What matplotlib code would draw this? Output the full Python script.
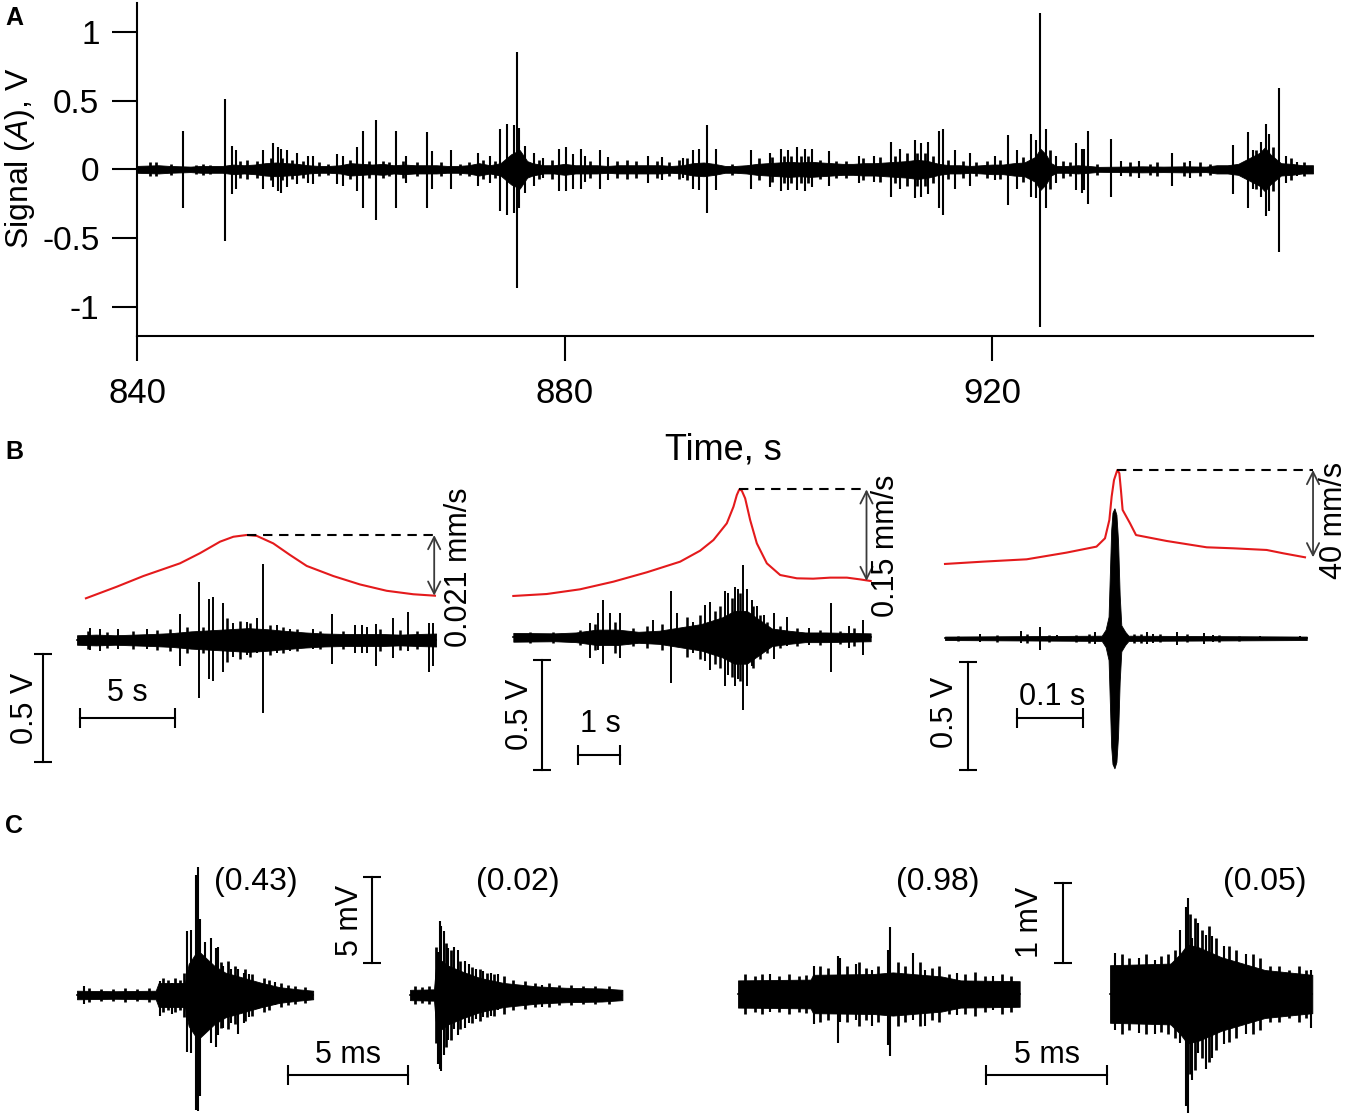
import numpy as np
import matplotlib
matplotlib.use('Agg')
from matplotlib import pyplot as plt

plt.rcParams['font.family'] = ['Liberation Sans', 'DejaVu Sans']
plt.rcParams['mathtext.fontset'] = 'custom'
plt.rcParams['mathtext.it'] = 'Liberation Sans:italic'
plt.rcParams['mathtext.rm'] = 'Liberation Sans'

W, H = 1355, 1119

# ---------------- panel A: long recording (s, V) ----------------
a_env_t = [840, 842, 843, 845, 846, 848, 849, 850, 851, 852, 853, 854, 855, 856, 857, 858, 859,
           860, 861, 862, 863, 864, 865, 866, 867, 868, 869, 870, 871, 872, 873, 874, 875, 875.8,
           876.5, 877, 878, 879, 880, 881, 882, 883, 884, 885, 886, 887, 888, 889, 890, 891, 892,
           893, 894, 895, 896, 897, 898, 899, 900, 901, 902, 903, 904, 905, 906, 907, 908, 909,
           910, 911, 912, 913, 914, 915, 916, 917, 918, 919, 920, 921, 922, 923, 924, 924.5, 925,
           925.5, 926, 927, 928, 929, 930, 932, 934, 936, 938, 940, 941, 942, 943, 944, 945, 945.5,
           946, 947, 948, 949, 950]
a_env = [0.025, 0.03, 0.025, 0.02, 0.025, 0.025, 0.035, 0.03, 0.035, 0.045, 0.05, 0.045, 0.04,
         0.03, 0.025, 0.025, 0.03, 0.045, 0.04, 0.035, 0.04, 0.03, 0.035, 0.03, 0.03, 0.03, 0.025,
         0.025, 0.03, 0.045, 0.03, 0.045, 0.11, 0.14, 0.06, 0.045, 0.03, 0.03, 0.04, 0.03, 0.03,
         0.03, 0.025, 0.03, 0.03, 0.03, 0.03, 0.03, 0.025, 0.03, 0.045, 0.05, 0.04, 0.025, 0.025,
         0.03, 0.04, 0.045, 0.05, 0.055, 0.05, 0.055, 0.05, 0.045, 0.04, 0.04, 0.045, 0.045, 0.05,
         0.055, 0.06, 0.07, 0.06, 0.04, 0.03, 0.03, 0.025, 0.03, 0.035, 0.035, 0.045, 0.05, 0.09,
         0.15, 0.11, 0.045, 0.025, 0.025, 0.03, 0.025, 0.018, 0.02, 0.022, 0.02, 0.022, 0.02,
         0.03, 0.03, 0.04, 0.08, 0.12, 0.16, 0.11, 0.045, 0.04, 0.03, 0.03]
a_spk_t = [844.3, 848.2, 848.9, 849.3, 851.8, 852.7, 853.2, 853.5, 854.0, 855.0, 856.0, 856.5,
           858.7, 859.3, 860.6, 861.1, 862.4, 864.2, 865.2, 867.1, 867.6, 869.4, 871.9, 873.0,
           874.0, 874.6, 875.3, 875.5, 875.7, 876.3, 877.1, 878.0, 879.5, 880.1, 880.8, 881.5,
           881.9, 883.3, 884.1, 887.8, 889.1, 891.1, 892.0, 892.6, 893.3, 894.2, 897.4, 899.2,
           900.2, 900.9, 901.7, 902.5, 903.1, 904.7, 907.5, 908.9, 910.5, 911.4, 912.8, 913.3,
           914.0, 915.0, 915.4, 916.5, 917.9, 920.3, 921.5, 922.3, 923.6, 924.1, 924.5, 925.0,
           926.0, 927.8, 928.4, 928.6, 929.0, 931.1, 932.0, 933.7, 936.8, 938.5, 942.5, 943.9,
           944.4, 945.1, 945.6, 945.9, 946.8, 947.5, 948.5]
a_spk_up = [0.28, 0.51, 0.17, 0.14, 0.14, 0.19, 0.16, 0.15, 0.14, 0.12, 0.10, 0.10,
            0.11, 0.10, 0.16, 0.28, 0.36, 0.28, 0.10, 0.27, 0.13, 0.14, 0.12, 0.10,
            0.29, 0.33, 0.32, 0.85, 0.30, 0.17, 0.12, 0.08, 0.15, 0.16, 0.11, 0.15,
            0.10, 0.14, 0.09, 0.10, 0.09, 0.08, 0.14, 0.15, 0.32, 0.15, 0.14, 0.12,
            0.15, 0.14, 0.16, 0.15, 0.15, 0.13, 0.10, 0.10, 0.20, 0.15, 0.21, 0.19,
            0.20, 0.28, 0.29, 0.14, 0.12, 0.10, 0.25, 0.14, 0.26, 0.21, 1.14, 0.29,
            0.10, 0.19, 0.15, 0.15, 0.28, 0.22, 0.06, 0.06, 0.12, 0.06, 0.18, 0.27,
            0.14, 0.20, 0.33, 0.26, 0.59, 0.10, 0.05]
a_spk_dn = [-0.28, -0.52, -0.18, -0.14, -0.14, -0.13, -0.16, -0.17, -0.13, -0.11, -0.10, -0.11,
            -0.11, -0.12, -0.16, -0.28, -0.37, -0.28, -0.10, -0.28, -0.14, -0.14, -0.12, -0.10,
            -0.30, -0.33, -0.32, -0.86, -0.28, -0.17, -0.12, -0.06, -0.16, -0.16, -0.14, -0.14,
            -0.09, -0.14, -0.08, -0.10, -0.08, -0.06, -0.14, -0.15, -0.32, -0.15, -0.14, -0.13,
            -0.16, -0.15, -0.15, -0.16, -0.13, -0.12, -0.10, -0.09, -0.20, -0.14, -0.21, -0.20,
            -0.18, -0.28, -0.33, -0.14, -0.12, -0.08, -0.26, -0.14, -0.20, -0.21, -1.15, -0.28,
            -0.10, -0.15, -0.17, -0.15, -0.25, -0.20, -0.05, -0.06, -0.12, -0.06, -0.18, -0.28,
            -0.14, -0.20, -0.34, -0.30, -0.60, -0.10, -0.05]
# small wiggles on the baseline (time, half amplitude)
a_tex_t = [841.2, 841.8, 843.2, 845.5, 846.2, 846.8, 849.6, 850.3, 851.2, 852.5, 853.6, 854.5,
           855.5, 857.0, 857.9, 859.9, 861.7, 863.0, 863.6, 864.9, 866.2, 868.4, 870.2, 871.1,
           872.4, 873.5, 876.1, 877.6, 878.8, 882.4, 884.9, 885.8, 886.7, 888.6, 889.8, 890.7,
           891.4, 895.7, 898.2, 899.4, 900.5, 901.2, 902.1, 902.8, 903.9, 905.4, 906.3, 907.9,
           909.5, 910.9, 912.0, 913.0, 913.7, 914.5, 915.9, 917.3, 918.5, 919.5, 920.7, 922.9,
           925.4, 926.6, 927.3, 929.8, 932.9, 934.8, 935.4, 937.9, 939.4, 940.4, 944.7, 946.3,
           947.9, 949.2]
a_tex = [0.05, 0.05, 0.04, 0.035, 0.04, 0.035, 0.06, 0.07, 0.06, 0.08, 0.08, 0.07,
         0.06, 0.05, 0.04, 0.07, 0.06, 0.06, 0.05, 0.06, 0.05, 0.05, 0.04, 0.05,
         0.07, 0.06, 0.10, 0.07, 0.07, 0.06, 0.06, 0.07, 0.06, 0.06, 0.05, 0.07,
         0.08, 0.04, 0.08, 0.09, 0.10, 0.10, 0.10, 0.10, 0.07, 0.06, 0.06, 0.08,
         0.09, 0.10, 0.12, 0.12, 0.12, 0.10, 0.07, 0.06, 0.05, 0.06, 0.07, 0.09,
         0.14, 0.06, 0.05, 0.04, 0.05, 0.04, 0.05, 0.05, 0.05, 0.04, 0.14, 0.16,
         0.08, 0.05]
a_xticks = [840, 880, 920]
a_yticks = [-1, -0.5, 0, 0.5, 1]
a_yticklabels = ['-1', '-0.5', '0', '0.5', '1']

# ---------------- panel B: three events (s, V) and velocity (mm/s) ----------------
b1_env_t = [0, 1, 2, 3, 4, 5, 6, 7, 8, 9, 10, 11, 12, 13, 14, 15, 16, 17, 18, 18.9]
b1_env = [0.022, 0.025, 0.022, 0.025, 0.028, 0.032, 0.04, 0.045, 0.05, 0.055, 0.05, 0.042,
          0.035, 0.03, 0.028, 0.028, 0.028, 0.025, 0.028, 0.03]
b1_spk_t = [0.68, 1.21, 2.18, 3.67, 5.42, 6.42, 6.95, 7.18, 7.70, 8.23, 8.93, 9.46, 9.79,
            10.51, 11.21, 12.44, 13.40, 14.63, 14.98, 15.25, 15.72, 16.65, 17.44, 18.53, 18.75]
b1_spk_up = [0.056, 0.05, 0.05, 0.05, 0.12, 0.27, 0.19, 0.20, 0.17, 0.08, 0.085, 0.10, 0.35,
             0.07, 0.05, 0.05, 0.12, 0.07, 0.07, 0.06, 0.075, 0.10, 0.13, 0.08, 0.08]
b1_spk_dn = [-0.046, -0.05, -0.04, -0.04, -0.12, -0.27, -0.18, -0.19, -0.15, -0.08, -0.07, -0.06,
             -0.34, -0.06, -0.05, -0.04, -0.11, -0.06, -0.06, -0.06, -0.12, -0.085, -0.05,
             -0.15, -0.12]
b1_tex_t = [0.57, 1.56, 2.97, 4.19, 4.9, 5.77, 6.65, 7.88, 8.58, 9.11, 10.16, 10.86, 11.56,
            12.79, 14.02, 15.95, 17.0, 17.88]
b1_tex = [0.04, 0.035, 0.04, 0.045, 0.05, 0.06, 0.06, 0.10, 0.09, 0.08, 0.07, 0.06, 0.05,
          0.04, 0.04, 0.05, 0.045, 0.04]
b1_vel_t = [0.47, 2.09, 3.49, 5.42, 6.47, 7.53, 8.23, 8.93, 9.46, 10.33, 11.21, 12.09, 13.49,
            14.89, 16.30, 17.70, 18.84]
b1_vel = [-0.0009, 0.0031, 0.0068, 0.0112, 0.0147, 0.0187, 0.0204, 0.0210, 0.0207, 0.0181,
          0.0141, 0.0103, 0.0068, 0.0039, 0.0017, 0.0005, 0.0]

b2_env_t = [0, 1, 1.5, 2, 2.5, 3, 3.5, 4, 4.5, 5, 5.3, 5.6, 5.9, 6.2, 6.6, 7, 7.5, 8, 8.57]
b2_env = [0.02, 0.018, 0.022, 0.035, 0.035, 0.025, 0.03, 0.045, 0.06, 0.09, 0.12, 0.12, 0.08,
          0.04, 0.03, 0.022, 0.022, 0.02, 0.018]
b2_spk_t = [1.84, 2.04, 2.16, 2.33, 2.56, 3.36, 3.77, 3.93, 4.30, 4.60, 4.72, 5.08, 5.16,
            5.32, 5.40, 5.52, 5.60, 5.72, 5.84, 6.00, 6.24, 6.56, 7.08, 7.63, 8.05, 8.38]
b2_spk_up = [0.066, 0.11, 0.17, 0.11, 0.11, 0.079, 0.21, 0.11, 0.07, 0.147, 0.16, 0.21, 0.20,
             0.23, 0.22, 0.33, 0.22, 0.17, 0.14, 0.10, 0.11, 0.09, 0.04, 0.155, 0.05, 0.08]
b2_spk_dn = [-0.094, -0.06, -0.12, -0.035, -0.094, -0.03, -0.21, -0.04, -0.07, -0.11, -0.15,
             -0.22, -0.17, -0.22, -0.19, -0.33, -0.22, -0.13, -0.07, -0.03, -0.10, -0.04,
             -0.035, -0.156, -0.05, -0.08]
b2_tex_t = [0.4, 0.96, 1.6, 1.96, 2.44, 2.88, 3.2, 3.56, 4.16, 4.48, 4.84, 4.96, 5.24, 5.44,
            5.76, 5.92, 6.08, 6.4, 6.8, 7.36, 7.84, 8.16]
b2_tex = [0.025, 0.025, 0.035, 0.06, 0.07, 0.04, 0.05, 0.06, 0.09, 0.10, 0.12, 0.14, 0.18,
          0.20, 0.14, 0.10, 0.07, 0.05, 0.04, 0.035, 0.03, 0.04]
b2_vel_t = [0.0, 0.8, 1.6, 2.4, 3.2, 4.0, 4.48, 4.8, 5.12, 5.28, 5.36, 5.42, 5.48, 5.56, 5.68,
            5.84, 6.08, 6.4, 6.8, 7.19, 7.6, 8.0, 8.31, 8.57]
b2_vel = [-0.0245, -0.0213, -0.0136, -0.0011, 0.0142, 0.0316, 0.0496, 0.0671, 0.0944, 0.1216,
          0.1407, 0.15, 0.1478, 0.1353, 0.0998, 0.0616, 0.0289, 0.0098, 0.0044, 0.0038,
          0.0055, 0.0055, 0.0027, 0.0]

b3_env_t = [0.0, 0.240, 0.246, 0.2505, 0.2525, 0.2545, 0.2565, 0.2595, 0.2625, 0.265, 0.2675,
            0.270, 0.276, 0.281, 0.554]
b3_env = [0.008, 0.012, 0.04, 0.10, 0.30, 0.50, 0.58, 0.60, 0.57, 0.45, 0.20, 0.06, 0.03,
          0.012, 0.008]
b3_spk_t = [0.0536, 0.117, 0.1455, 0.171, 0.2297, 0.309, 0.319, 0.355, 0.396, 0.411, 0.4824,
            0.5436]
b3_spk_up = [0.02, 0.035, 0.054, 0.015, 0.03, 0.03, 0.02, 0.03, 0.025, 0.015, 0.012, 0.01]
b3_spk_dn = [-0.015, -0.02, -0.054, -0.012, -0.025, -0.025, -0.02, -0.03, -0.025, -0.015,
             -0.01, -0.01]
b3_tex_t = [0.02, 0.08, 0.125, 0.16, 0.2, 0.22, 0.29, 0.3, 0.33, 0.37, 0.42, 0.45]
b3_tex = [0.012, 0.015, 0.02, 0.015, 0.015, 0.02, 0.02, 0.02, 0.018, 0.018, 0.015, 0.012]
b3_vel_t = [0.0, 0.0587, 0.125, 0.186, 0.232, 0.245, 0.2517, 0.2552, 0.2588, 0.2639, 0.267,
            0.2695, 0.272, 0.2833, 0.2925, 0.3394, 0.4007, 0.4415, 0.4926, 0.518, 0.5513]
b3_vel = [-3.05, -1.98, -0.92, 2.14, 4.89, 8.70, 17.1, 27.8, 35.4, 40.0, 38.5, 30.5, 21.7,
          15.6, 10.2, 7.48, 4.58, 4.12, 3.36, 1.83, 0.0]

b_arrow_t = [18.8, 8.47, 0.5636]
b_vel_labels = ['0.021 mm/s', '0.15 mm/s', '40 mm/s']
b_time_bars = [5, 1, 0.1]
b_time_labels = ['5 s', '1 s', '0.1 s']
b_volt_bar = 0.5

# ---------------- panel C: four single events (ms, mV) ----------------
c1_env_t = [0, 1.6, 3.28, 3.4, 4.5, 4.65, 5.03, 5.72, 6.18, 6.94, 7.7, 8.46, 9.23, 9.84]
c1_env = [0.25, 0.22, 0.25, 0.7, 0.7, 1.8, 2.6, 1.7, 1.3, 1.0, 0.7, 0.45, 0.33, 0.25]
c1_spk_t = [0.3, 3.46, 3.97, 4.58, 4.73, 4.96, 5.03, 5.11, 5.34, 5.57, 5.80, 5.87, 6.10,
            6.40, 6.71, 6.94, 7.17, 7.55, 8.24]
c1_spk_up = [0.55, 0.8, 0.7, 3.7, 3.8, 6.98, 7.47, 4.4, 3.1, 3.3, 2.75, 2.8, 1.7, 1.5, 1.5,
             1.3, 1.2, 0.7, 0.75]
c1_spk_dn = [-0.5, -1.2, -1.1, -3.3, -3.4, -6.68, -6.77, -5.9, -1.9, -2.8, -3.0, -2.3, -1.9,
             -1.6, -2.25, -1.6, -1.3, -0.8, -0.6]
c1_tex_t = [0.5, 1.0, 1.5, 2.0, 2.5, 3.0, 3.6, 3.8, 4.1, 4.3, 4.45, 6.0, 6.3, 6.6, 7.0, 7.3,
            7.8, 8.0, 8.5, 8.8, 9.1, 9.5]
c1_tex = [0.4, 0.35, 0.35, 0.4, 0.35, 0.4, 1.0, 0.9, 1.0, 0.9, 1.3, 1.9, 2.0, 1.7, 1.5, 1.2,
          1.0, 0.9, 0.7, 0.6, 0.5, 0.45]

c2_env_t = [0, 1.0, 1.07, 1.3, 1.6, 2.2, 2.9, 3.9, 5.3, 6.5, 8.0, 8.85]
c2_env = [0.3, 0.33, 1.5, 2.0, 1.7, 1.35, 1.0, 0.7, 0.5, 0.42, 0.38, 0.3]
c2_spk_t = [1.16, 1.25, 1.30, 1.40, 1.60, 1.83, 1.98, 2.29, 2.44, 2.74, 3.05, 3.36, 3.66, 5.49]
c2_spk_up = [2.5, 4.3, 4.0, 3.7, 2.75, 2.8, 2.6, 2.0, 1.8, 1.5, 1.4, 1.3, 1.2, 0.6]
c2_spk_dn = [-4.0, -4.3, -4.4, -3.5, -2.6, -2.0, -2.3, -1.9, -1.6, -1.4, -1.3, -1.2, -0.9, -0.7]
c2_tex_t = [0.2, 0.5, 0.8, 1.1, 1.5, 1.7, 2.1, 2.6, 2.9, 3.2, 3.5, 3.9, 4.3, 4.8, 5.2, 5.8,
            6.2, 6.7, 7.2, 7.7, 8.3]
c2_tex = [0.5, 0.45, 0.5, 2.8, 3.0, 2.6, 2.0, 1.6, 1.5, 1.3, 1.2, 1.1, 0.9, 0.8, 0.7, 0.7,
          0.6, 0.6, 0.55, 0.5, 0.55]

c3_env_t = [0, 3.0, 3.1, 5.6, 6.4, 8.4, 9.2, 11.64]
c3_env = [0.17, 0.18, 0.24, 0.25, 0.27, 0.22, 0.17, 0.16]
c3_spk_t = [1.34, 3.15, 4.13, 4.21, 4.87, 5.53, 6.18, 6.30, 7.25, 7.74, 9.05, 10.53]
c3_spk_up = [0.25, 0.35, 0.47, 0.45, 0.37, 0.3, 0.55, 0.84, 0.51, 0.3, 0.26, 0.22]
c3_spk_dn = [-0.22, -0.38, -0.61, -0.35, -0.32, -0.4, -0.64, -0.78, -0.32, -0.4, -0.26, -0.2]
c3_tex_t = [0.3, 0.7, 1.0, 1.7, 2.1, 2.5, 2.8, 3.4, 3.7, 4.5, 5.0, 5.3, 5.8, 6.6, 6.9, 7.5,
            8.0, 8.3, 8.7, 9.4, 9.8, 10.2, 10.9, 11.3]
c3_tex = [0.25, 0.23, 0.25, 0.22, 0.25, 0.22, 0.24, 0.35, 0.32, 0.35, 0.4, 0.33, 0.35, 0.4,
          0.35, 0.4, 0.33, 0.35, 0.25, 0.25, 0.27, 0.22, 0.25, 0.22]

c4_env_t = [0, 2.5, 2.9, 3.2, 3.7, 4.6, 6.4, 8.36]
c4_env = [0.36, 0.38, 0.5, 0.62, 0.58, 0.46, 0.3, 0.24]
c4_spk_t = [0.2, 1.18, 1.84, 2.9, 3.15, 3.23, 3.4, 3.64, 3.97, 4.21, 4.71, 5.6, 8.31]
c4_spk_up = [0.51, 0.45, 0.43, 0.8, 1.09, 1.2, 0.7, 0.89, 0.74, 0.72, 0.6, 0.5, 0.3]
c4_spk_dn = [-0.45, -0.49, -0.5, -0.61, -1.4, -1.49, -1.07, -0.74, -0.94, -0.8, -0.63, -0.5,
             -0.42]
c4_tex_t = [0.5, 0.8, 1.5, 2.1, 2.4, 2.7, 3.3, 3.5, 3.8, 4.1, 4.4, 4.9, 5.2, 5.9, 6.2, 6.6,
            7.0, 7.4, 7.8, 8.1]
c4_tex = [0.5, 0.45, 0.5, 0.48, 0.5, 0.55, 1.0, 0.95, 0.8, 0.85, 0.7, 0.6, 0.55, 0.5, 0.45,
          0.35, 0.35, 0.3, 0.35, 0.3]

c_labels = ['(0.43)', '(0.02)', '(0.98)', '(0.05)']
c_time_bar = 5
c_volt_bars = [5, 1]
c_volt_labels = ['5 mV', '1 mV']

RED = '#e41a1c'

fig = plt.figure(figsize=(W / 100, H / 100), dpi=100)


def data_axes(box, x0, y0, sx, sy):
    # box in figure pixels (left, top, right, bottom); x0/y0 pixel of data origin; sx/sy pixels per unit
    l, t, r, b = box
    ax = fig.add_axes([l / W, 1 - b / H, (r - l) / W, (b - t) / H])
    ax.set_xlim((l - x0) / sx, (r - x0) / sx)
    ax.set_ylim((y0 - b) / sy, (y0 - t) / sy)
    ax.axis('off')
    ax.px = lambda px, py: ((px - x0) / sx, (y0 - py) / sy)
    ax.sc = (sx, sy)
    return ax


def ftext(px, py, s, **kw):
    fig.text(px / W, 1 - py / H, s, ha='center', va='center', **kw)


def trace(ax, env_t, env, spk_t, spk_up, spk_dn, tex_t, tex, lw=1.5, clip=False):
    env = np.array(env)
    tex = np.array(tex)
    ax.fill_between(env_t, -env, env, color='k', lw=0.6, clip_on=clip)
    ax.plot([env_t[0], env_t[-1]], [0, 0], color='k', lw=1.2, clip_on=clip)
    ax.vlines(tex_t, -tex, tex, color='k', lw=lw * 1.3, clip_on=clip)
    ax.vlines(spk_t, spk_dn, spk_up, color='k', lw=lw, clip_on=clip)


def hbar(ax, px, py, length, cap=10):
    x, y = ax.px(px, py)
    c = cap / ax.sc[1]
    ax.plot([x, x + length], [y, y], color='k', lw=1.5, clip_on=False)
    ax.vlines([x, x + length], y - c, y + c, color='k', lw=1.5, clip_on=False)


def vbar(ax, px, py, length, cap=9):
    x, y = ax.px(px, py)
    c = cap / ax.sc[0]
    ax.plot([x, x], [y, y + length], color='k', lw=1.5, clip_on=False)
    ax.hlines([y, y + length], x - c, x + c, color='k', lw=1.5, clip_on=False)


# ---------------- A ----------------
axA = fig.add_axes([137 / W, 1 - 335.7 / H, 1176 / W, 332.7 / H])
trace(axA, a_env_t, a_env, a_spk_t, a_spk_up, a_spk_dn, a_tex_t, a_tex, lw=1.5, clip=True)
axA.set_xlim(840, 950)
axA.set_ylim(-1.21, 1.21)
axA.set_xticks(a_xticks)
axA.set_yticks(a_yticks)
axA.set_yticklabels(a_yticklabels)
for s in ['top', 'right']:
    axA.spines[s].set_visible(False)
for s in ['left', 'bottom']:
    axA.spines[s].set_linewidth(1.5)
axA.tick_params(axis='both', direction='out', length=18, width=1.5)
axA.tick_params(axis='x', labelsize=25, pad=12)
axA.tick_params(axis='y', labelsize=24, pad=9)
axA.set_xlabel('Time, s', fontsize=26)
axA.xaxis.set_label_coords((723 - 137) / 1176, (335.7 - 432) / 332.7)
ftext(20, 158, 'Signal ($\\it{A}$), V', fontsize=23, rotation=90)

for lab, py in [('A', 18), ('B', 452), ('C', 826)]:
    fig.text(5 / W, 1 - py / H, lab, fontsize=18, fontweight='bold', va='center', ha='left')

# ---------------- B ----------------
b_specs = [
    # signal box, x0, y0, sx, sy, velocity y0, velocity sy
    ((0, 455, 480, 790), 77, 640, 19, 216, 595.7, 2890),
    ((490, 455, 900, 790), 513.3, 637.3, 41.7, 220, 581, 611),
    ((910, 455, 1355, 790), 945, 638.3, 653, 216.7, 557.3, 2.183),
]
b_traces = [
    (b1_env_t, b1_env, b1_spk_t, b1_spk_up, b1_spk_dn, b1_tex_t, b1_tex, b1_vel_t, b1_vel),
    (b2_env_t, b2_env, b2_spk_t, b2_spk_up, b2_spk_dn, b2_tex_t, b2_tex, b2_vel_t, b2_vel),
    (b3_env_t, b3_env, b3_spk_t, b3_spk_up, b3_spk_dn, b3_tex_t, b3_tex, b3_vel_t, b3_vel),
]
# scale bar anchors and label places (pixels)
b_vbar_px = [(43, 762), (541.7, 770), (968.3, 770)]
b_hbar_px = [(80, 718), (578.3, 755), (1017.3, 718.3)]
b_vlab_px = [(25, 708), (520, 714), (945, 712)]
b_hlab_px = [(127, 693), (600, 724), (1052, 697)]
b_arrlab_px = [(459, 567), (886, 546), (1334, 520)]

for i, (spec, tr) in enumerate(zip(b_specs, b_traces)):
    box, x0, y0, sx, sy, vy0, vsy = spec
    env_t, env, st, su, sd, tt, ta, vt, vv = tr
    ax = data_axes(box, x0, y0, sx, sy)
    trace(ax, env_t, env, st, su, sd, tt, ta, lw=1.4)
    vbar(ax, *b_vbar_px[i], b_volt_bar)
    hbar(ax, *b_hbar_px[i], b_time_bars[i])
    ftext(*b_vlab_px[i], '0.5 V', fontsize=22, rotation=90)
    ftext(*b_hlab_px[i], b_time_labels[i], fontsize=22)

    axv = data_axes(box, x0, vy0, sx, vsy)
    axv.plot(vt, vv, color=RED, lw=1.5, clip_on=False)
    k = int(np.argmax(vv))
    axv.hlines(vv[k], vt[k], b_arrow_t[i], colors='k', lw=1.5,
               linestyles=(0, (4.5, 3.2)), clip_on=False)
    axv.annotate('', xy=(b_arrow_t[i], 0), xytext=(b_arrow_t[i], vv[k]),
                 arrowprops=dict(arrowstyle='<->', color='#3a3a3a', lw=1.3,
                                 mutation_scale=22, shrinkA=0, shrinkB=0),
                 annotation_clip=False)
    ftext(*b_arrlab_px[i], b_vel_labels[i], fontsize=22, rotation=90)

# ---------------- C ----------------
c_specs = [
    ((60, 840, 330, 1119), 77, 995, 24, 17.2),
    ((400, 840, 640, 1119), 410, 995, 24, 17.2),
    ((720, 840, 1040, 1119), 738, 994, 24.2, 80),
    ((1100, 840, 1355, 1119), 1110, 994, 24.2, 80),
]
c_traces = [
    (c1_env_t, c1_env, c1_spk_t, c1_spk_up, c1_spk_dn, c1_tex_t, c1_tex),
    (c2_env_t, c2_env, c2_spk_t, c2_spk_up, c2_spk_dn, c2_tex_t, c2_tex),
    (c3_env_t, c3_env, c3_spk_t, c3_spk_up, c3_spk_dn, c3_tex_t, c3_tex),
    (c4_env_t, c4_env, c4_spk_t, c4_spk_up, c4_spk_dn, c4_tex_t, c4_tex),
]
c_label_px = [(256, 882), (518, 882), (938, 882), (1265, 882)]
c_axes = []
for spec, tr, lp, lab in zip(c_specs, c_traces, c_label_px, c_labels):
    ax = data_axes(*spec)
    trace(ax, *tr, lw=1.5)
    ftext(*lp, lab, fontsize=23)
    c_axes.append(ax)

# scale bars for the two pairs
for ax, vpx, hpx, vlab, hlab, vb, vl in [
        (c_axes[0], (372, 963), (288, 1075), (350, 920), (348, 1055), c_volt_bars[0], c_volt_labels[0]),
        (c_axes[2], (1063, 963), (986, 1075), (1030, 922), (1047, 1055), c_volt_bars[1], c_volt_labels[1])]:
    vbar(ax, *vpx, vb)
    hbar(ax, *hpx, c_time_bar)
    ftext(*vlab, vl, fontsize=22, rotation=90)
    ftext(*hlab, '5 ms', fontsize=22)

fig.savefig('out.png', dpi=100)
